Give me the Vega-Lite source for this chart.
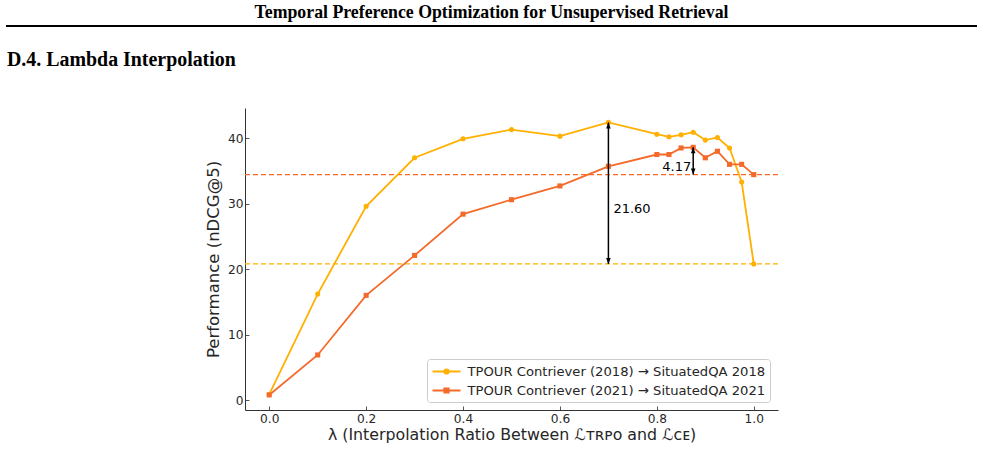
{
  "$schema": "https://vega.github.io/schema/vega-lite/v6.json",
  "background": "white",
  "padding": {"left": 5, "top": 4, "right": 7, "bottom": 2},
  "title": {
    "text": "Temporal Preference Optimization for Unsupervised Retrieval",
    "anchor": "middle",
    "frame": "bounds",
    "font": "Liberation Serif",
    "fontSize": 17.8,
    "fontWeight": "bold",
    "color": "black",
    "offset": 3
  },
  "config": {
    "view": {"stroke": null},
    "font": "DejaVu Sans",
    "axis": {
      "domainColor": "#333333",
      "domainWidth": 1,
      "tickColor": "#555555",
      "tickWidth": 1,
      "tickSize": -4,
      "grid": false,
      "labelFont": "DejaVu Sans",
      "labelFontSize": 12.2,
      "labelColor": "#262626",
      "titleFont": "DejaVu Sans",
      "titleFontWeight": "normal",
      "titleColor": "#262626"
    }
  },
  "datasets": {
    "curves": [
      {"lambda": 0.0, "ndcg": 0.9, "series": "TPOUR Contriever (2018) → SituatedQA 2018"},
      {"lambda": 0.1, "ndcg": 16.2, "series": "TPOUR Contriever (2018) → SituatedQA 2018"},
      {"lambda": 0.2, "ndcg": 29.6, "series": "TPOUR Contriever (2018) → SituatedQA 2018"},
      {"lambda": 0.3, "ndcg": 37.0, "series": "TPOUR Contriever (2018) → SituatedQA 2018"},
      {"lambda": 0.4, "ndcg": 39.9, "series": "TPOUR Contriever (2018) → SituatedQA 2018"},
      {"lambda": 0.5, "ndcg": 41.3, "series": "TPOUR Contriever (2018) → SituatedQA 2018"},
      {"lambda": 0.6, "ndcg": 40.3, "series": "TPOUR Contriever (2018) → SituatedQA 2018"},
      {"lambda": 0.7, "ndcg": 42.4, "series": "TPOUR Contriever (2018) → SituatedQA 2018"},
      {"lambda": 0.8, "ndcg": 40.6, "series": "TPOUR Contriever (2018) → SituatedQA 2018"},
      {"lambda": 0.825, "ndcg": 40.2, "series": "TPOUR Contriever (2018) → SituatedQA 2018"},
      {"lambda": 0.85, "ndcg": 40.5, "series": "TPOUR Contriever (2018) → SituatedQA 2018"},
      {"lambda": 0.875, "ndcg": 40.9, "series": "TPOUR Contriever (2018) → SituatedQA 2018"},
      {"lambda": 0.9, "ndcg": 39.7, "series": "TPOUR Contriever (2018) → SituatedQA 2018"},
      {"lambda": 0.925, "ndcg": 40.1, "series": "TPOUR Contriever (2018) → SituatedQA 2018"},
      {"lambda": 0.95, "ndcg": 38.5, "series": "TPOUR Contriever (2018) → SituatedQA 2018"},
      {"lambda": 0.975, "ndcg": 33.3, "series": "TPOUR Contriever (2018) → SituatedQA 2018"},
      {"lambda": 1.0, "ndcg": 20.8, "series": "TPOUR Contriever (2018) → SituatedQA 2018"},
      {"lambda": 0.0, "ndcg": 0.8, "series": "TPOUR Contriever (2021) → SituatedQA 2021"},
      {"lambda": 0.1, "ndcg": 6.9, "series": "TPOUR Contriever (2021) → SituatedQA 2021"},
      {"lambda": 0.2, "ndcg": 16.0, "series": "TPOUR Contriever (2021) → SituatedQA 2021"},
      {"lambda": 0.3, "ndcg": 22.1, "series": "TPOUR Contriever (2021) → SituatedQA 2021"},
      {"lambda": 0.4, "ndcg": 28.4, "series": "TPOUR Contriever (2021) → SituatedQA 2021"},
      {"lambda": 0.5, "ndcg": 30.6, "series": "TPOUR Contriever (2021) → SituatedQA 2021"},
      {"lambda": 0.6, "ndcg": 32.7, "series": "TPOUR Contriever (2021) → SituatedQA 2021"},
      {"lambda": 0.7, "ndcg": 35.7, "series": "TPOUR Contriever (2021) → SituatedQA 2021"},
      {"lambda": 0.8, "ndcg": 37.5, "series": "TPOUR Contriever (2021) → SituatedQA 2021"},
      {"lambda": 0.825, "ndcg": 37.5, "series": "TPOUR Contriever (2021) → SituatedQA 2021"},
      {"lambda": 0.85, "ndcg": 38.5, "series": "TPOUR Contriever (2021) → SituatedQA 2021"},
      {"lambda": 0.875, "ndcg": 38.6, "series": "TPOUR Contriever (2021) → SituatedQA 2021"},
      {"lambda": 0.9, "ndcg": 37.0, "series": "TPOUR Contriever (2021) → SituatedQA 2021"},
      {"lambda": 0.925, "ndcg": 38.0, "series": "TPOUR Contriever (2021) → SituatedQA 2021"},
      {"lambda": 0.95, "ndcg": 36.0, "series": "TPOUR Contriever (2021) → SituatedQA 2021"},
      {"lambda": 0.975, "ndcg": 36.0, "series": "TPOUR Contriever (2021) → SituatedQA 2021"},
      {"lambda": 1.0, "ndcg": 34.43, "series": "TPOUR Contriever (2021) → SituatedQA 2021"}
    ],
    "baselines": [
      {"level": 34.43, "series": "TPOUR Contriever (2021) → SituatedQA 2021"},
      {"level": 20.8, "series": "TPOUR Contriever (2018) → SituatedQA 2018"}
    ],
    "gaps": [
      {"lambda": 0.7, "low": 20.8, "high": 42.4, "label": "21.60", "labelAt": 29.2, "side": "right"},
      {"lambda": 0.875, "low": 34.43, "high": 38.6, "label": "4.17", "labelAt": 35.6, "side": "left"}
    ]
  },
  "resolve": {
    "scale": {"color": "independent", "x": "independent", "y": "independent"},
    "legend": {"color": "independent"}
  },
  "vconcat": [
    {
      "width": 533,
      "height": 1,
      "data": {"values": [{"from": 0, "to": 1}]},
      "mark": {"type": "rule", "strokeWidth": 2, "color": "black", "clip": false},
      "encoding": {
        "x": {"field": "from", "type": "quantitative", "axis": null, "scale": {"domain": [0, 1], "range": [-239, 732]}},
        "x2": {"field": "to"},
        "y": {"datum": 0, "type": "quantitative", "axis": null}
      }
    },
    {
      "width": 533,
      "height": 302,
      "title": {
        "text": "D.4. Lambda Interpolation",
        "anchor": "start",
        "frame": "group",
        "dx": -238,
        "offset": 22,
        "baseline": "alphabetic",
        "font": "Liberation Serif",
        "fontSize": 19.9,
        "fontWeight": "bold",
        "color": "black"
      },
      "layer": [
        {
          "data": {"name": "baselines"},
          "mark": {"type": "rule", "strokeDash": [5, 3], "strokeWidth": 1.2, "opacity": 1},
          "encoding": {
            "y": {"field": "level", "type": "quantitative"},
            "color": {"field": "series", "type": "nominal"}
          }
        },
        {
          "data": {"name": "curves"},
          "mark": {"type": "line", "strokeWidth": 1.8},
          "encoding": {
            "x": {
              "field": "lambda", "type": "quantitative",
              "scale": {"domain": [-0.05, 1.05], "nice": false, "zero": false},
              "axis": {
                "values": [0, 0.2, 0.4, 0.6, 0.8, 1.0],
                "format": ".1f",
                "labelPadding": 6,
                "titlePadding": 3,
                "titleFontSize": 15.8,
                "title": "λ (Interpolation Ratio Between ℒᴛʀᴘᴏ and ℒᴄᴇ)"
              }
            },
            "y": {
              "field": "ndcg", "type": "quantitative",
              "scale": {"domain": [-1.5, 44.6], "nice": false, "zero": false},
              "axis": {
                "values": [0, 10, 20, 30, 40],
                "labelPadding": 6,
                "titlePadding": 6,
                "titleFontSize": 16.5,
                "title": "Performance (nDCG@5)"
              }
            },
            "color": {
              "field": "series", "type": "nominal",
              "scale": {
                "domain": ["TPOUR Contriever (2018) → SituatedQA 2018", "TPOUR Contriever (2021) → SituatedQA 2021"],
                "range": ["#FFB000", "#F46A2B"]
              },
              "legend": {
                "title": null,
                "orient": "bottom-right",
                "offset": 8,
                "padding": 4.5,
                "fillColor": "rgba(255,255,255,0.85)",
                "strokeColor": "#cccccc",
                "cornerRadius": 3,
                "labelFont": "DejaVu Sans",
                "labelFontSize": 13.15,
                "labelColor": "#262626",
                "labelLimit": 0,
                "symbolSize": 196,
                "symbolOffset": 7,
                "labelOffset": 13,
                "rowPadding": 4,
                "encode": {
                  "symbols": {
                    "update": {
                      "shape": {"signal": "indexof(datum.value, '2018') > 0 ? 'M-2,0H2M0.3,0A0.3,0.3,0,1,1,-0.3,0A0.3,0.3,0,1,1,0.3,0Z' : 'M-2,0H2M-0.3,-0.3H0.3V0.3H-0.3Z'"},
                      "fill": {"scale": "color", "field": "value"},
                      "stroke": {"scale": "color", "field": "value"},
                      "strokeWidth": {"value": 2},
                      "opacity": {"value": 1}
                    }
                  }
                }
              }
            }
          }
        },
        {
          "data": {"name": "curves"},
          "mark": {"type": "point", "filled": true, "opacity": 1, "size": 26},
          "encoding": {
            "x": {"field": "lambda", "type": "quantitative"},
            "y": {"field": "ndcg", "type": "quantitative"},
            "color": {"field": "series", "type": "nominal"},
            "shape": {
              "field": "series", "type": "nominal",
              "scale": {"range": ["circle", "square"]},
              "legend": null
            }
          }
        },
        {
          "data": {"name": "gaps"},
          "mark": {"type": "rule", "color": "black", "strokeWidth": 1.5},
          "encoding": {
            "x": {"field": "lambda", "type": "quantitative"},
            "y": {"field": "low", "type": "quantitative"},
            "y2": {"field": "high"}
          }
        },
        {
          "data": {"name": "gaps"},
          "mark": {"type": "point", "shape": "M0,0L-0.38,1L0.38,1Z", "filled": true, "color": "black", "opacity": 1, "size": 144},
          "encoding": {
            "x": {"field": "lambda", "type": "quantitative"},
            "y": {"field": "high", "type": "quantitative"}
          }
        },
        {
          "data": {"name": "gaps"},
          "mark": {"type": "point", "shape": "M0,0L-0.38,-1L0.38,-1Z", "filled": true, "color": "black", "opacity": 1, "size": 144},
          "encoding": {
            "x": {"field": "lambda", "type": "quantitative"},
            "y": {"field": "low", "type": "quantitative"}
          }
        },
        {
          "data": {"name": "gaps"},
          "transform": [{"filter": "datum.side === 'right'"}],
          "mark": {"type": "text", "align": "left", "baseline": "middle", "dx": 5, "fontSize": 13, "font": "DejaVu Sans", "color": "black"},
          "encoding": {
            "x": {"field": "lambda", "type": "quantitative"},
            "y": {"field": "labelAt", "type": "quantitative"},
            "text": {"field": "label"}
          }
        },
        {
          "data": {"name": "gaps"},
          "transform": [{"filter": "datum.side === 'left'"}],
          "mark": {"type": "text", "align": "right", "baseline": "middle", "dx": -2, "fontSize": 13, "font": "DejaVu Sans", "color": "black"},
          "encoding": {
            "x": {"field": "lambda", "type": "quantitative"},
            "y": {"field": "labelAt", "type": "quantitative"},
            "text": {"field": "label"}
          }
        }
      ]
    }
  ],
  "spacing": 23
}
